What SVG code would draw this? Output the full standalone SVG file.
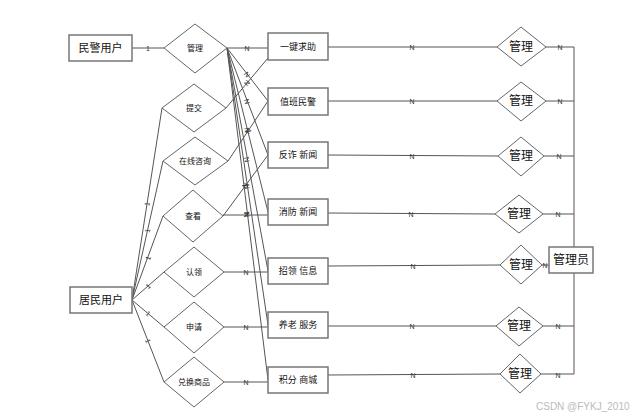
<svg xmlns="http://www.w3.org/2000/svg" width="643" height="417" viewBox="0 0 643 417">
<style>
.bg{fill:#fff}
.ent{fill:#fff;stroke:#777;stroke-width:1.5}
.rel{fill:#fff;stroke:#666;stroke-width:1}
.ln{stroke:#555;stroke-width:1;fill:none}
text{font-family:"Liberation Sans","Noto Sans CJK SC",sans-serif;fill:#111;text-anchor:middle;dominant-baseline:central}
.t11{font-size:11px}
.t12{font-size:12px}
.t9{font-size:9px}
.t8{font-size:8px}
.lb{font-size:7px;fill:#333}
.wm{font-size:10px;fill:#bbb;text-anchor:start}
</style>
<rect class="bg" width="643" height="417"/>
<g id="connectors">
  <line class="ln" x1="132" y1="48" x2="164" y2="48"/>
  <line class="ln" x1="227" y1="48" x2="268" y2="48"/>
  <line class="ln" x1="227" y1="48" x2="268" y2="101"/>
  <line class="ln" x1="227" y1="48" x2="268" y2="155"/>
  <line class="ln" x1="227" y1="48" x2="268" y2="212"/>
  <line class="ln" x1="227" y1="48" x2="268" y2="271"/>
  <line class="ln" x1="227" y1="48" x2="268" y2="325"/>
  <line class="ln" x1="227" y1="48" x2="268" y2="380"/>
  <line class="ln" x1="226" y1="108" x2="268" y2="58"/>
  <line class="ln" x1="228" y1="161" x2="268" y2="101"/>
  <line class="ln" x1="223" y1="216" x2="268" y2="155"/>
  <line class="ln" x1="223" y1="215" x2="268" y2="215"/>
  <line class="ln" x1="224" y1="272" x2="268" y2="272"/>
  <line class="ln" x1="224" y1="327" x2="268" y2="327"/>
  <line class="ln" x1="224" y1="382" x2="268" y2="382"/>
  <line class="ln" x1="132" y1="300" x2="162" y2="108"/>
  <line class="ln" x1="132" y1="300" x2="163" y2="161"/>
  <line class="ln" x1="132" y1="300" x2="163" y2="216"/>
  <line class="ln" x1="132" y1="300" x2="164" y2="272"/>
  <line class="ln" x1="132" y1="300" x2="164" y2="327"/>
  <line class="ln" x1="132" y1="300" x2="164" y2="382"/>
  <line class="ln" x1="328" y1="47" x2="497" y2="47"/>
  <line class="ln" x1="328" y1="101" x2="497" y2="101"/>
  <line class="ln" x1="328" y1="155" x2="498" y2="156"/>
  <line class="ln" x1="328" y1="213" x2="495" y2="214"/>
  <line class="ln" x1="328" y1="266" x2="500" y2="265"/>
  <line class="ln" x1="328" y1="326" x2="496" y2="326"/>
  <line class="ln" x1="328" y1="375" x2="500" y2="374"/>
  <line class="ln" x1="546" y1="47" x2="574" y2="47"/>
  <line class="ln" x1="546" y1="101" x2="574" y2="101"/>
  <line class="ln" x1="544" y1="156" x2="574" y2="156"/>
  <line class="ln" x1="543" y1="214" x2="574" y2="214"/>
  <line class="ln" x1="542" y1="265" x2="549" y2="265"/>
  <line class="ln" x1="543" y1="326" x2="574" y2="326"/>
  <line class="ln" x1="541" y1="374" x2="574" y2="374"/>
  <line class="ln" x1="574" y1="47" x2="574" y2="374"/>
  <text class="lb" x="148" y="48">1</text>
  <text class="lb" x="247" y="48">N</text>
  <text class="lb" transform="translate(247,74.5) rotate(53)">N</text>
  <text class="lb" transform="translate(247,101.5) rotate(69.5)">N</text>
  <text class="lb" transform="translate(247,130) rotate(76.3)">N</text>
  <text class="lb" transform="translate(247,159.5) rotate(79.8)">N</text>
  <text class="lb" transform="translate(247,186.5) rotate(81.8)">N</text>
  <text class="lb" transform="translate(247,214) rotate(83.1)">N</text>
  <text class="lb" transform="translate(247,83) rotate(-50.6)">N</text>
  <text class="lb" transform="translate(248,131) rotate(-57)">N</text>
  <text class="lb" transform="translate(245,185.5) rotate(-54)">N</text>
  <text class="lb" transform="translate(246,215) rotate(90)">N</text>
  <text class="lb" x="246" y="272">N</text>
  <text class="lb" x="246" y="327">N</text>
  <text class="lb" x="246" y="382">N</text>
  <text class="lb" transform="translate(147,204) rotate(-81)">1</text>
  <text class="lb" transform="translate(147.5,230.5) rotate(-77.4)">1</text>
  <text class="lb" transform="translate(148,258) rotate(-69.7)">1</text>
  <text class="lb" transform="translate(148,286) rotate(-41)">1</text>
  <text class="lb" transform="translate(148,313.5) rotate(40)">1</text>
  <text class="lb" transform="translate(148,341) rotate(68.7)">1</text>
  <text class="lb" x="412" y="47">N</text>
  <text class="lb" x="412" y="101">N</text>
  <text class="lb" x="412" y="156">N</text>
  <text class="lb" x="411" y="214">N</text>
  <text class="lb" x="413" y="266">N</text>
  <text class="lb" x="412" y="326">N</text>
  <text class="lb" x="413" y="375">N</text>
  <text class="lb" x="560" y="47">N</text>
  <text class="lb" x="560" y="101">N</text>
  <text class="lb" x="559" y="156">N</text>
  <text class="lb" x="558" y="214">N</text>
  <text class="lb" x="545" y="265">N</text>
  <text class="lb" x="558" y="326">N</text>
  <text class="lb" x="558" y="375">N</text>
</g>
<g id="police"><rect class="ent" x="69" y="35" width="63" height="26"/><text class="t11" x="100.5" y="48">民警用户</text></g>
<g id="resident"><rect class="ent" x="70" y="287" width="62" height="26"/><text class="t11" x="101" y="300">居民用户</text></g>
<g id="admin"><rect class="ent" x="549" y="247" width="44" height="26"/><text class="t12" x="571" y="260">管理员</text></g>
<g id="manage0"><polygon class="rel" points="195,24 227,48 195,73 164,48"/><text class="t8" x="195" y="48">管理</text></g>
<g id="submit"><polygon class="rel" points="194,84 226,108 194,132 162,108"/><text class="t8" x="194" y="108">提交</text></g>
<g id="consult"><polygon class="rel" points="195,137 228,161 195,185 163,161"/><text class="t8" x="195" y="161">在线咨询</text></g>
<g id="view"><polygon class="rel" points="193,190 223,216 193,242 163,216"/><text class="t8" x="193" y="216">查看</text></g>
<g id="claim"><polygon class="rel" points="194,247 224,272 194,297 164,272"/><text class="t8" x="194" y="272">认领</text></g>
<g id="apply"><polygon class="rel" points="194,302 224,327 194,353 164,327"/><text class="t8" x="194" y="327">申请</text></g>
<g id="exchange"><polygon class="rel" points="194,357 224,382 194,407 164,382"/><text class="t8" x="194" y="382">兑换商品</text></g>
<g id="e1"><rect class="ent" x="268" y="33" width="60" height="27"/><text class="t9" x="298" y="46.5">一键求助</text></g>
<g id="e2"><rect class="ent" x="268" y="88" width="60" height="27"/><text class="t9" x="298" y="101.5">值班民警</text></g>
<g id="e3"><rect class="ent" x="268" y="142" width="60" height="26"/><text class="t9" x="298" y="155">反诈 新闻</text></g>
<g id="e4"><rect class="ent" x="268" y="199" width="60" height="26"/><text class="t9" x="298" y="212">消防 新闻</text></g>
<g id="e5"><rect class="ent" x="268" y="258" width="60" height="26"/><text class="t9" x="298" y="271">招领 信息</text></g>
<g id="e6"><rect class="ent" x="268" y="312" width="60" height="26"/><text class="t9" x="298" y="325">养老 服务</text></g>
<g id="e7"><rect class="ent" x="268" y="367" width="60" height="26"/><text class="t9" x="298" y="380">积分 商城</text></g>
<g id="m1"><polygon class="rel" points="521,27 546,47 521,66 497,47"/><text class="t12" x="521" y="47">管理</text></g>
<g id="m2"><polygon class="rel" points="521,82 546,101 521,121 497,101"/><text class="t12" x="521" y="101">管理</text></g>
<g id="m3"><polygon class="rel" points="521,137 544,156 521,176 498,156"/><text class="t12" x="521" y="156">管理</text></g>
<g id="m4"><polygon class="rel" points="519,195 543,214 519,233 495,214"/><text class="t12" x="519" y="214">管理</text></g>
<g id="m5"><polygon class="rel" points="521,245 542,265 521,284 500,265"/><text class="t12" x="521" y="265">管理</text></g>
<g id="m6"><polygon class="rel" points="519,307 543,326 519,346 496,326"/><text class="t12" x="519" y="326">管理</text></g>
<g id="m7"><polygon class="rel" points="520,354 541,374 520,393 500,374"/><text class="t12" x="520" y="374">管理</text></g>
<text class="wm" x="536" y="406">CSDN @FYKJ_2010</text>
</svg>
